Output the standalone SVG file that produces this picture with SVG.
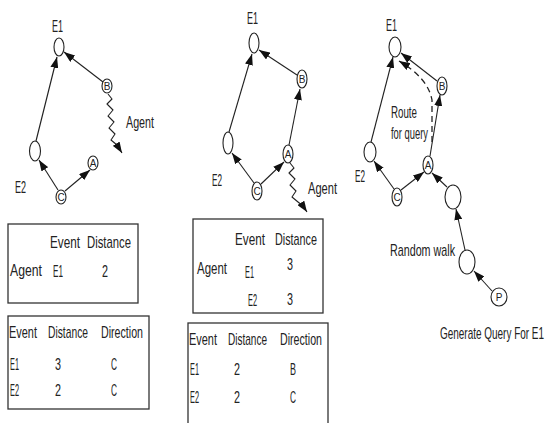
<svg xmlns="http://www.w3.org/2000/svg" width="551" height="423" viewBox="0 0 551 423">
<style>
text{font-family:"Liberation Sans",Arial,sans-serif;font-size:17px;fill:#222}
.n{fill:#fff;stroke:#222;stroke-width:1.1}
.k{font-size:10px;text-anchor:middle}
.e{stroke:#222;stroke-width:1.1;fill:none;marker-end:url(#ah)}
.w{stroke:#222;stroke-width:1.1;fill:none;stroke-linejoin:round;marker-end:url(#ah)}
.d{stroke:#222;stroke-width:1.3;fill:none;stroke-dasharray:6 4;marker-end:url(#ah)}
.t{fill:#fff;stroke:#333;stroke-width:1.3}
</style>
<defs>
<marker id="ah" viewBox="0 0 11 8" refX="11" refY="4" markerWidth="11" markerHeight="8" orient="auto" markerUnits="userSpaceOnUse"><path d="M0,0 L11,4 L0,8 z" fill="#111"/></marker>
</defs>
<rect width="551" height="423" fill="#fff"/>
<g id="connectors">
<path class="e" d="M36,141 L57,57"/>
<path class="e" d="M103,82 L64,52"/>
<path class="e" d="M58,190 L39,160"/>
<path class="e" d="M65,191 L90,170"/>
<path class="w" d="M108,94 L112,99 L107,104 L113,110 L108,116 L114,122 L109,128 L115,134 L111,140 L117,145 L122,153"/>
<path class="e" d="M229,132 L252,54"/>
<path class="e" d="M297,75 L259,50"/>
<path class="e" d="M254,183 L232,153"/>
<path class="e" d="M261,184 L284,162"/>
<path class="e" d="M289,145 L300,89"/>
<path class="w" d="M290,163 L294,168 L289,173 L295,179 L290,185 L296,191 L292,197 L298,202 L303,206 L307,212"/>
<path class="e" d="M371,142 L393,57"/>
<path class="e" d="M437,81 L401,53"/>
<path class="e" d="M394,189 L374,161"/>
<path class="e" d="M401,190 L424,172"/>
<path class="e" d="M430,156 L440,95"/>
<path class="e" d="M447,187 L432,173"/>
<path class="e" d="M465,250 L456,209"/>
<path class="e" d="M492,291 L474,271"/>
<path class="d" d="M432,142 L432,100 Q428,78 399,61"/>
</g>
<g id="p1-E1"><ellipse class="n" cx="59" cy="47" rx="5" ry="9"/><text x="52" y="32" textLength="11" lengthAdjust="spacingAndGlyphs">E1</text></g>
<g id="p1-B"><ellipse class="n" cx="107" cy="86" rx="5" ry="7"/><text class="k" x="107" y="90">B</text></g>
<g id="p1-E2"><ellipse class="n" cx="35" cy="151" rx="5.5" ry="10"/><text x="15" y="193" textLength="11" lengthAdjust="spacingAndGlyphs">E2</text></g>
<g id="p1-C"><ellipse class="n" cx="61" cy="197" rx="5" ry="7"/><text class="k" x="61" y="201">C</text></g>
<g id="p1-A"><ellipse class="n" cx="93" cy="163" rx="5" ry="7"/><text class="k" x="93" y="167">A</text></g>
<g id="p1-agent"><text x="126" y="128" textLength="28" lengthAdjust="spacingAndGlyphs">Agent</text></g>
<g id="p2-E1"><ellipse class="n" cx="254" cy="43" rx="5" ry="10"/><text x="247" y="24" textLength="11" lengthAdjust="spacingAndGlyphs">E1</text></g>
<g id="p2-B"><ellipse class="n" cx="302" cy="79" rx="5" ry="9"/><text class="k" x="302" y="83">B</text></g>
<g id="p2-E2"><ellipse class="n" cx="228" cy="143" rx="5" ry="11"/><text x="212" y="186" textLength="10" lengthAdjust="spacingAndGlyphs">E2</text></g>
<g id="p2-C"><ellipse class="n" cx="257" cy="191" rx="5" ry="9"/><text class="k" x="257" y="195">C</text></g>
<g id="p2-A"><ellipse class="n" cx="288" cy="154" rx="5" ry="9"/><text class="k" x="288" y="158">A</text></g>
<g id="p2-agent"><text x="308" y="194" textLength="29" lengthAdjust="spacingAndGlyphs">Agent</text></g>
<g id="p3-E1"><ellipse class="n" cx="395" cy="47" rx="6" ry="10"/><text x="386" y="31" textLength="11" lengthAdjust="spacingAndGlyphs">E1</text></g>
<g id="p3-B"><ellipse class="n" cx="442" cy="86" rx="5" ry="9"/><text class="k" x="442" y="90">B</text></g>
<g id="p3-E2"><ellipse class="n" cx="370" cy="152" rx="6" ry="10"/><text x="355" y="182" textLength="10" lengthAdjust="spacingAndGlyphs">E2</text></g>
<g id="p3-C"><ellipse class="n" cx="397" cy="197" rx="5" ry="9"/><text class="k" x="397" y="201">C</text></g>
<g id="p3-A"><ellipse class="n" cx="428" cy="165" rx="5" ry="9"/><text class="k" x="428" y="169">A</text></g>
<g id="p3-N1"><ellipse class="n" cx="453" cy="197" rx="8" ry="12"/></g>
<g id="p3-N2"><ellipse class="n" cx="467" cy="262" rx="8" ry="12"/></g>
<g id="p3-P"><ellipse class="n" cx="499" cy="297" rx="8" ry="9"/><text class="k" x="499" y="301">P</text></g>
<g id="p3-labels">
<text x="391" y="118" textLength="26" lengthAdjust="spacingAndGlyphs">Route</text>
<text x="391" y="139" textLength="37" lengthAdjust="spacingAndGlyphs">for query</text>
<text x="390" y="256" textLength="65" lengthAdjust="spacingAndGlyphs">Random walk</text>
<text x="440" y="339" textLength="104" lengthAdjust="spacingAndGlyphs">Generate Query For E1</text>
</g>
<g id="p1-table1">
<rect class="t" x="8" y="224" width="130" height="79"/>
<text x="50" y="248" textLength="30" lengthAdjust="spacingAndGlyphs">Event</text>
<text x="87" y="248" textLength="44" lengthAdjust="spacingAndGlyphs">Distance</text>
<text x="10" y="276" textLength="32" lengthAdjust="spacingAndGlyphs">Agent</text>
<text x="53" y="277" textLength="10" lengthAdjust="spacingAndGlyphs">E1</text>
<text x="102" y="277" textLength="6" lengthAdjust="spacingAndGlyphs">2</text>
</g>
<g id="p1-table2">
<rect class="t" x="8" y="316" width="141" height="93"/>
<text x="9" y="338" textLength="28" lengthAdjust="spacingAndGlyphs">Event</text>
<text x="48" y="338" textLength="40" lengthAdjust="spacingAndGlyphs">Distance</text>
<text x="101" y="338" textLength="42" lengthAdjust="spacingAndGlyphs">Direction</text>
<text x="10" y="370" textLength="9" lengthAdjust="spacingAndGlyphs">E1</text>
<text x="55" y="370" textLength="6" lengthAdjust="spacingAndGlyphs">3</text>
<text x="111" y="370" textLength="6" lengthAdjust="spacingAndGlyphs">C</text>
<text x="10" y="396" textLength="9" lengthAdjust="spacingAndGlyphs">E2</text>
<text x="55" y="396" textLength="6" lengthAdjust="spacingAndGlyphs">2</text>
<text x="111" y="396" textLength="6" lengthAdjust="spacingAndGlyphs">C</text>
</g>
<g id="p2-table1">
<rect class="t" x="193" y="219" width="130" height="94"/>
<text x="235" y="245" textLength="30" lengthAdjust="spacingAndGlyphs">Event</text>
<text x="275" y="245" textLength="42" lengthAdjust="spacingAndGlyphs">Distance</text>
<text x="197" y="274" textLength="30" lengthAdjust="spacingAndGlyphs">Agent</text>
<text x="245" y="278" textLength="9" lengthAdjust="spacingAndGlyphs">E1</text>
<text x="287" y="270" textLength="6" lengthAdjust="spacingAndGlyphs">3</text>
<text x="248" y="306" textLength="9" lengthAdjust="spacingAndGlyphs">E2</text>
<text x="287" y="305" textLength="6" lengthAdjust="spacingAndGlyphs">3</text>
</g>
<g id="p2-table2">
<rect class="t" x="188" y="323" width="140" height="110"/>
<text x="189" y="345" textLength="28" lengthAdjust="spacingAndGlyphs">Event</text>
<text x="228" y="345" textLength="39" lengthAdjust="spacingAndGlyphs">Distance</text>
<text x="280" y="345" textLength="42" lengthAdjust="spacingAndGlyphs">Direction</text>
<text x="190" y="375" textLength="9" lengthAdjust="spacingAndGlyphs">E1</text>
<text x="234" y="375" textLength="6" lengthAdjust="spacingAndGlyphs">2</text>
<text x="290" y="375" textLength="6" lengthAdjust="spacingAndGlyphs">B</text>
<text x="190" y="403" textLength="9" lengthAdjust="spacingAndGlyphs">E2</text>
<text x="234" y="403" textLength="6" lengthAdjust="spacingAndGlyphs">2</text>
<text x="290" y="403" textLength="6" lengthAdjust="spacingAndGlyphs">C</text>
</g>
</svg>
